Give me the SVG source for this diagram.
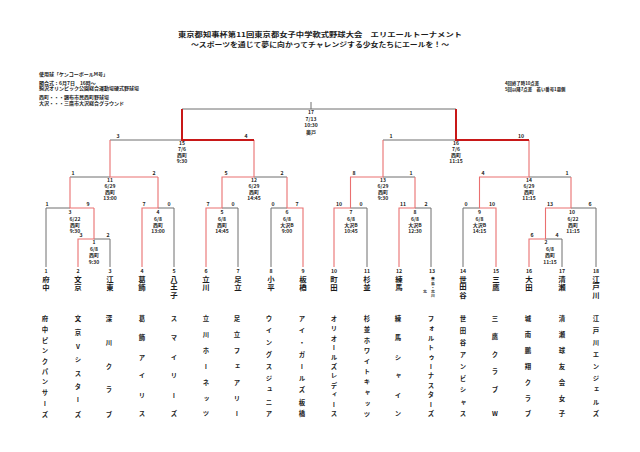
<svg xmlns="http://www.w3.org/2000/svg" width="640" height="452" viewBox="0 0 640 452">
<style>
text { font-family: "Noto Sans CJK JP", "Noto Sans", sans-serif; font-weight: 700; fill: #1c1c1c; }
.ttl { font-size: 6.6px; text-anchor: middle; }
.inf { font-size: 5px; }
.inr { font-size: 4.4px; }
.lb { font-size: 5px; text-anchor: middle; }
.sc { font-size: 5.2px; text-anchor: middle; }
.no { font-size: 5.2px; text-anchor: middle; }
.sn { font-size: 7.4px; writing-mode: vertical-rl; text-anchor: middle; }
.fn { font-size: 6.4px; writing-mode: vertical-rl; text-anchor: middle; }
.up { text-orientation: upright; }
.tiny { font-size: 3.8px; writing-mode: vertical-rl; text-anchor: middle; }
.g { fill: none; stroke: #6f6f6f; stroke-width: 1; }
.r { fill: none; stroke: #ea7070; stroke-width: 1.1; }
.rt { fill: none; stroke: #c81818; stroke-width: 2; }
</style>

<g id="title">
<text class="ttl" x="320" y="37.3" textLength="284" lengthAdjust="spacingAndGlyphs">東京都知事杯第11回東京都女子中学軟式野球大会　エリエールトーナメント</text>
<text class="ttl" x="320" y="46.9" textLength="258" lengthAdjust="spacingAndGlyphs">～スポーツを通じて夢に向かってチャレンジする少女たちにエールを！～</text>
</g>
<g id="info">
<text class="inf" x="39" y="75.5">使用球「ケンコーボールM号」</text>
<text class="inf" x="39" y="84.5">開会式：6月7日　16時～</text>
<text class="inf" x="39" y="90">駒沢オリンピック公園総合運動場硬式野球場</text>
<text class="inf" x="39" y="98.5">西町・・・調布市民西町野球場</text>
<text class="inf" x="39" y="104.5">大沢・・・三鷹市大沢総合グラウンド</text>
</g>
<g id="rules">
<text class="inr" x="505" y="84.5">4回終了時10点差</text>
<text class="inr" x="505" y="90.5">5回以降7点差　若い番号1塁側</text>
</g>

<g id="connectors">
<path class="g" d="M46 267V208H70 M110 267V239H94 M174 267V208H158 M238 267V208H222 M271 267V208H287 M367 267V208H350.5 M431 267V208H415 M463 267V208H479.5 M562 267V239H545.5 M596 267V208H571 M70 177H110 M254 177H287 M383 177H415 M529 177H571 M110 140H182 M383 140H456 M182 109H456 M311 102V109"/>
<path class="r" d="M78 267V239H94V208 M94 208H70V177 M142 267V208H158V177 M158 177H110V140 M206 267V208H222V177H254V140 M303 267V208H287V177 M334 267V208H350.5V177H383V140 M399 267V208H415V177 M496 267V208H479.5V177H529V140 M529 267V239H545.5V208H571V177"/>
<path class="rt" d="M254 140H182V109 M529 140H456V109"/>
</g>

<g id="game17"><text class="lb"><tspan x="311" y="114">17</tspan><tspan x="311" y="120.5">7/13</tspan><tspan x="311" y="127">10:30</tspan><tspan x="311" y="133.5">奥戸</tspan></text></g>
<g id="game15"><text class="sc" x="118" y="138">3</text><text class="sc" x="246" y="138">4</text><text class="lb"><tspan x="182" y="145">15</tspan><tspan x="182" y="151">7/6</tspan><tspan x="182" y="157">西町</tspan><tspan x="182" y="163">9:30</tspan></text></g>
<g id="game16"><text class="sc" x="391" y="138">1</text><text class="sc" x="521" y="138">10</text><text class="lb"><tspan x="456" y="145">16</tspan><tspan x="456" y="151">7/6</tspan><tspan x="456" y="157">西町</tspan><tspan x="456" y="163">11:15</tspan></text></g>
<g id="game11"><text class="sc" x="73" y="175">1</text><text class="sc" x="154" y="175">2</text><text class="lb"><tspan x="110" y="182">11</tspan><tspan x="110" y="188">6/29</tspan><tspan x="110" y="194">西町</tspan><tspan x="110" y="200">13:00</tspan></text></g>
<g id="game12"><text class="sc" x="226" y="175">5</text><text class="sc" x="282" y="175">2</text><text class="lb"><tspan x="254" y="182">12</tspan><tspan x="254" y="188">6/29</tspan><tspan x="254" y="194">西町</tspan><tspan x="254" y="200">14:45</tspan></text></g>
<g id="game13"><text class="sc" x="354" y="175">8</text><text class="sc" x="411" y="175">1</text><text class="lb"><tspan x="383" y="182">13</tspan><tspan x="383" y="188">6/29</tspan><tspan x="383" y="194">西町</tspan><tspan x="383" y="200">9:30</tspan></text></g>
<g id="game14"><text class="sc" x="483" y="175">4</text><text class="sc" x="567" y="175">1</text><text class="lb"><tspan x="529" y="182">14</tspan><tspan x="529" y="188">6/29</tspan><tspan x="529" y="194">西町</tspan><tspan x="529" y="200">11:15</tspan></text></g>

<g id="game3"><text class="sc" x="47" y="206">1</text><text class="sc" x="88" y="206">9</text><text class="lb"><tspan x="70" y="214">3</tspan><tspan x="75" y="220.5">6/22</tspan><tspan x="75" y="226.5">西町</tspan><tspan x="75" y="233">9:30</tspan></text></g>
<g id="game1"><text class="sc" x="81" y="237">3</text><text class="sc" x="108" y="237">2</text><text class="lb"><tspan x="94" y="244">1</tspan><tspan x="94" y="251">6/8</tspan><tspan x="94" y="257">西町</tspan><tspan x="94" y="264">9:30</tspan></text></g>
<g id="game4"><text class="sc" x="144" y="206">7</text><text class="sc" x="169" y="206">0</text><text class="lb"><tspan x="158" y="214">4</tspan><tspan x="158" y="220.5">6/8</tspan><tspan x="158" y="226.5">西町</tspan><tspan x="158" y="233">13:00</tspan></text></g>
<g id="game5"><text class="sc" x="208" y="206">7</text><text class="sc" x="233" y="206">0</text><text class="lb"><tspan x="222" y="214">5</tspan><tspan x="222" y="220.5">6/8</tspan><tspan x="222" y="226.5">西町</tspan><tspan x="222" y="233">14:45</tspan></text></g>
<g id="game6"><text class="sc" x="273" y="206">0</text><text class="sc" x="297" y="206">7</text><text class="lb"><tspan x="287" y="214">6</tspan><tspan x="287" y="220.5">6/8</tspan><tspan x="287" y="226.5">大沢B</tspan><tspan x="287" y="233">9:00</tspan></text></g>
<g id="game7"><text class="sc" x="339" y="206">10</text><text class="sc" x="361" y="206">0</text><text class="lb"><tspan x="351" y="214">7</tspan><tspan x="351" y="220.5">6/8</tspan><tspan x="351" y="226.5">大沢B</tspan><tspan x="351" y="233">10:45</tspan></text></g>
<g id="game8"><text class="sc" x="403" y="206">11</text><text class="sc" x="426" y="206">2</text><text class="lb"><tspan x="415" y="214">8</tspan><tspan x="415" y="220.5">6/8</tspan><tspan x="415" y="226.5">大沢B</tspan><tspan x="415" y="233">12:30</tspan></text></g>
<g id="game9"><text class="sc" x="466" y="206">0</text><text class="sc" x="492" y="206">10</text><text class="lb"><tspan x="479.5" y="214">9</tspan><tspan x="479.5" y="220.5">6/8</tspan><tspan x="479.5" y="226.5">大沢B</tspan><tspan x="479.5" y="233">14:15</tspan></text></g>
<g id="game10"><text class="sc" x="550" y="206">13</text><text class="sc" x="590" y="206">6</text><text class="lb"><tspan x="572" y="214">10</tspan><tspan x="573" y="220.5">6/22</tspan><tspan x="573" y="226.5">西町</tspan><tspan x="573" y="233">11:15</tspan></text></g>
<g id="game2"><text class="sc" x="532" y="237">6</text><text class="sc" x="557" y="237">4</text><text class="lb"><tspan x="546" y="244">2</tspan><tspan x="550" y="251">6/8</tspan><tspan x="550" y="257">西町</tspan><tspan x="550" y="264">11:15</tspan></text></g>

<g id="team1"><text class="no" x="46" y="273">1</text><text class="sn"><tspan x="46" y="279">府</tspan><tspan x="46" y="288">中</tspan></text><text class="fn"><tspan x="45" y="319">府</tspan><tspan x="45" y="329.6">中</tspan><tspan x="45" y="340.1">ピ</tspan><tspan x="45" y="350.7">ン</tspan><tspan x="45" y="361.2">ク</tspan><tspan x="45" y="371.8">パ</tspan><tspan x="45" y="382.3">ン</tspan><tspan x="45" y="392.9">サ</tspan><tspan x="45" y="403.4">ー</tspan><tspan x="45" y="414">ズ</tspan></text></g>
<g id="team2"><text class="no" x="78" y="273">2</text><text class="sn"><tspan x="78" y="279">文</tspan><tspan x="78" y="288">京</tspan></text><text class="fn up"><tspan x="78" y="319">文</tspan><tspan x="78" y="332.6">京</tspan><tspan x="78" y="346.1">V</tspan><tspan x="78" y="359.7">シ</tspan><tspan x="78" y="373.3">ス</tspan><tspan x="78" y="386.9">タ</tspan><tspan x="78" y="400.4">ー</tspan><tspan x="78" y="414">ズ</tspan></text></g>
<g id="team3"><text class="no" x="110" y="273">3</text><text class="sn"><tspan x="110" y="279">江</tspan><tspan x="110" y="288">東</tspan></text><text class="fn"><tspan x="109" y="319">深</tspan><tspan x="109" y="342.75">川</tspan><tspan x="109" y="366.5">ク</tspan><tspan x="109" y="390.25">ラ</tspan><tspan x="109" y="414">ブ</tspan></text></g>
<g id="team4"><text class="no" x="142" y="273">4</text><text class="sn"><tspan x="142" y="279">葛</tspan><tspan x="142" y="288">飾</tspan></text><text class="fn"><tspan x="142" y="319">葛</tspan><tspan x="142" y="338">飾</tspan><tspan x="142" y="357">ア</tspan><tspan x="142" y="376">イ</tspan><tspan x="142" y="395">リ</tspan><tspan x="142" y="414">ス</tspan></text></g>
<g id="team5"><text class="no" x="174" y="273">5</text><text class="sn"><tspan x="174" y="279">八</tspan><tspan x="174" y="287">王</tspan><tspan x="174" y="295">子</tspan></text><text class="fn"><tspan x="174" y="319">ス</tspan><tspan x="174" y="338">マ</tspan><tspan x="174" y="357">イ</tspan><tspan x="174" y="376">リ</tspan><tspan x="174" y="395">ー</tspan><tspan x="174" y="414">ズ</tspan></text></g>
<g id="team6"><text class="no" x="206" y="273">6</text><text class="sn"><tspan x="206" y="279">立</tspan><tspan x="206" y="288">川</tspan></text><text class="fn"><tspan x="206" y="319">立</tspan><tspan x="206" y="334.8">川</tspan><tspan x="206" y="350.7">ホ</tspan><tspan x="206" y="366.5">ー</tspan><tspan x="206" y="382.3">ネ</tspan><tspan x="206" y="398.2">ッ</tspan><tspan x="206" y="414">ツ</tspan></text></g>
<g id="team7"><text class="no" x="238" y="273">7</text><text class="sn"><tspan x="238" y="279">足</tspan><tspan x="238" y="288">立</tspan></text><text class="fn"><tspan x="237" y="319">足</tspan><tspan x="237" y="334.8">立</tspan><tspan x="237" y="350.7">フ</tspan><tspan x="237" y="366.5">ェ</tspan><tspan x="237" y="382.3">ア</tspan><tspan x="237" y="398.2">リ</tspan><tspan x="237" y="414">ー</tspan></text></g>
<g id="team8"><text class="no" x="271" y="273">8</text><text class="sn"><tspan x="271" y="279">小</tspan><tspan x="271" y="288">平</tspan></text><text class="fn"><tspan x="269" y="319">ウ</tspan><tspan x="269" y="330.9">イ</tspan><tspan x="269" y="342.75">ン</tspan><tspan x="269" y="354.6">グ</tspan><tspan x="269" y="366.5">ス</tspan><tspan x="269" y="378.4">ジ</tspan><tspan x="269" y="390.25">ュ</tspan><tspan x="269" y="402.1">ニ</tspan><tspan x="269" y="414">ア</tspan></text></g>
<g id="team9"><text class="no" x="303" y="273">9</text><text class="sn"><tspan x="303" y="279">板</tspan><tspan x="303" y="288">橋</tspan></text><text class="fn"><tspan x="302" y="319">ア</tspan><tspan x="302" y="330.9">イ</tspan><tspan x="302" y="342.75">・</tspan><tspan x="302" y="354.6">ガ</tspan><tspan x="302" y="366.5">ー</tspan><tspan x="302" y="378.4">ル</tspan><tspan x="302" y="390.25">ズ</tspan><tspan x="302" y="402.1">板</tspan><tspan x="302" y="414">橋</tspan></text></g>
<g id="team10"><text class="no" x="334" y="273">10</text><text class="sn"><tspan x="334" y="279">町</tspan><tspan x="334" y="288">田</tspan></text><text class="fn"><tspan x="334" y="319">オ</tspan><tspan x="334" y="328.5">リ</tspan><tspan x="334" y="338">オ</tspan><tspan x="334" y="347.5">ー</tspan><tspan x="334" y="357">ル</tspan><tspan x="334" y="366.5">ズ</tspan><tspan x="334" y="376">レ</tspan><tspan x="334" y="385.5">デ</tspan><tspan x="334" y="395">ィ</tspan><tspan x="334" y="404.5">ー</tspan><tspan x="334" y="414">ス</tspan></text></g>
<g id="team11"><text class="no" x="367" y="273">11</text><text class="sn"><tspan x="367" y="279">杉</tspan><tspan x="367" y="288">並</tspan></text><text class="fn"><tspan x="367" y="319">杉</tspan><tspan x="367" y="329.6">並</tspan><tspan x="367" y="340.1">ホ</tspan><tspan x="367" y="350.7">ワ</tspan><tspan x="367" y="361.2">イ</tspan><tspan x="367" y="371.8">ト</tspan><tspan x="367" y="382.3">キ</tspan><tspan x="367" y="392.9">ャ</tspan><tspan x="367" y="403.4">ッ</tspan><tspan x="367" y="414">ツ</tspan></text></g>
<g id="team12"><text class="no" x="399" y="273">12</text><text class="sn"><tspan x="399" y="279">練</tspan><tspan x="399" y="288">馬</tspan></text><text class="fn"><tspan x="398" y="319">練</tspan><tspan x="398" y="338">馬</tspan><tspan x="398" y="357">シ</tspan><tspan x="398" y="376">ャ</tspan><tspan x="398" y="395">イ</tspan><tspan x="398" y="414">ン</tspan></text></g>
<g id="team13"><text class="no" x="432" y="273">13</text><text class="tiny"><tspan x="433" y="279">豊</tspan><tspan x="433" y="283.2">島</tspan><tspan x="433" y="287.4">・</tspan><tspan x="433" y="291.6">荒</tspan><tspan x="433" y="295.8">川</tspan></text><text class="tiny"><tspan x="425" y="292">北</tspan></text><text class="fn"><tspan x="431" y="319">フ</tspan><tspan x="431" y="328.5">ォ</tspan><tspan x="431" y="338">ル</tspan><tspan x="431" y="347.5">ト</tspan><tspan x="431" y="357">ゥ</tspan><tspan x="431" y="366.5">ー</tspan><tspan x="431" y="376">ナ</tspan><tspan x="431" y="385.5">ス</tspan><tspan x="431" y="395">タ</tspan><tspan x="431" y="404.5">ー</tspan><tspan x="431" y="414">ズ</tspan></text></g>
<g id="team14"><text class="no" x="463" y="273">14</text><text class="sn"><tspan x="463" y="279">世</tspan><tspan x="463" y="287">田</tspan><tspan x="463" y="295">谷</tspan></text><text class="fn"><tspan x="463" y="319">世</tspan><tspan x="463" y="330.9">田</tspan><tspan x="463" y="342.75">谷</tspan><tspan x="463" y="354.6">ア</tspan><tspan x="463" y="366.5">ン</tspan><tspan x="463" y="378.4">ビ</tspan><tspan x="463" y="390.25">シ</tspan><tspan x="463" y="402.1">ャ</tspan><tspan x="463" y="414">ス</tspan></text></g>
<g id="team15"><text class="no" x="496" y="273">15</text><text class="sn"><tspan x="496" y="279">三</tspan><tspan x="496" y="288">鷹</tspan></text><text class="fn up"><tspan x="495" y="319">三</tspan><tspan x="495" y="336.7">鷹</tspan><tspan x="495" y="354.3">ク</tspan><tspan x="495" y="371.7">ラ</tspan><tspan x="495" y="389.3">ブ</tspan><tspan x="495" y="414">W</tspan></text></g>
<g id="team16"><text class="no" x="529" y="273">16</text><text class="sn"><tspan x="529" y="279">大</tspan><tspan x="529" y="288">田</tspan></text><text class="fn"><tspan x="528" y="319">城</tspan><tspan x="528" y="334.8">南</tspan><tspan x="528" y="350.7">鵬</tspan><tspan x="528" y="366.5">翔</tspan><tspan x="528" y="382.3">ク</tspan><tspan x="528" y="398.2">ラ</tspan><tspan x="528" y="414">ブ</tspan></text></g>
<g id="team17"><text class="no" x="562" y="273">17</text><text class="sn"><tspan x="562" y="279">清</tspan><tspan x="562" y="288">瀬</tspan></text><text class="fn"><tspan x="562" y="319">清</tspan><tspan x="562" y="334.8">瀬</tspan><tspan x="562" y="350.7">球</tspan><tspan x="562" y="366.5">友</tspan><tspan x="562" y="382.3">会</tspan><tspan x="562" y="398.2">女</tspan><tspan x="562" y="414">子</tspan></text></g>
<g id="team18"><text class="no" x="596" y="273">18</text><text class="sn"><tspan x="596" y="279">江</tspan><tspan x="596" y="287">戸</tspan><tspan x="596" y="295">川</tspan></text><text class="fn"><tspan x="596" y="319">江</tspan><tspan x="596" y="330.9">戸</tspan><tspan x="596" y="342.75">川</tspan><tspan x="596" y="354.6">エ</tspan><tspan x="596" y="366.5">ン</tspan><tspan x="596" y="378.4">ジ</tspan><tspan x="596" y="390.25">ェ</tspan><tspan x="596" y="402.1">ル</tspan><tspan x="596" y="414">ズ</tspan></text></g>
</svg>
